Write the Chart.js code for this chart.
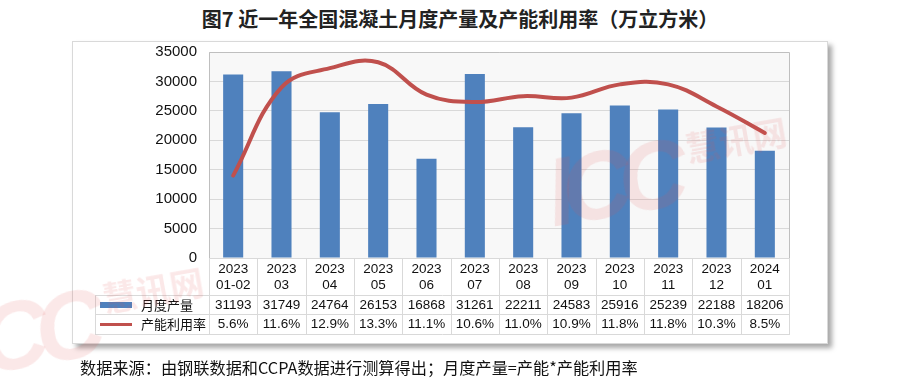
<!DOCTYPE html>
<html lang="zh-CN">
<head>
<meta charset="UTF-8">
<title>近一年全国混凝土月度产量及产能利用率</title>
<script src="https://cdn.jsdelivr.net/npm/chart.js"></script>
<style>
  body {margin: 0; background: #fff;}
  #wrap {position: relative; width: 900px; height: 389px; overflow: hidden; background: #fff;}
  .title {position: absolute; left: 0; top: 4px; width: 920px; text-align: center; font-family: "Noto Sans CJK SC", sans-serif; font-size: 20px; font-weight: bold; color: #222;}
  .frame {position: absolute; left: 72px; top: 41px; width: 754px; height: 301px; border: 1px solid #d9d9d9; background: #fff; box-shadow: 4px 4px 5px rgba(0,0,0,0.35);}
  #chart {position: absolute; left: 0; top: 0;}
  .note {position: absolute; left: 80px; top: 355px; font-family: "Noto Sans CJK SC", sans-serif; font-size: 16.2px; color: #111; white-space: nowrap;}
  .wm {position: absolute; font-family: "Liberation Sans", "Noto Sans CJK SC", sans-serif; font-weight: bold; font-style: italic; color: rgba(225, 80, 80, 0.13); pointer-events: none; white-space: nowrap; transform: rotate(-10deg); transform-origin: left top;}
  .wm span {font-size: 34px; font-style: normal; letter-spacing: 0; vertical-align: 40px;}
</style>
</head>
<body>
<div id="wrap">
  <div class="title">图7 近一年全国混凝土月度产量及产能利用率（万立方米）</div>
  <div class="frame"></div>
  <canvas id="chart" width="900" height="389"></canvas>
  <div class="wm" style="left:538px; top:140px; font-size:96px; letter-spacing:-12px;">ICC <span>慧讯网</span></div>
  <div class="wm" style="left:-45px; top:290px; font-size:96px; letter-spacing:-12px;">ICC <span>慧讯网</span></div>
  <div class="note">数据来源：由钢联数据和CCPA数据进行测算得出；月度产量=产能*产能利用率</div>
</div>
<script>
// 数据
const years = ['2023', '2023', '2023', '2023', '2023', '2023', '2023', '2023', '2023', '2023', '2023', '2024'];
const months = ['01-02', '03', '04', '05', '06', '07', '08', '09', '10', '11', '12', '01'];
const output = [31193, 31749, 24764, 26153, 16868, 31261, 22211, 24583, 25916, 25239, 22188, 18206];
const rates = [5.6, 11.6, 12.9, 13.3, 11.1, 10.6, 11.0, 10.9, 11.8, 11.8, 10.3, 8.5];
const yTicks = [0, 5000, 10000, 15000, 20000, 25000, 30000, 35000];

const barColor = '#4f81bd';
const lineColor = '#c0504d';
const gridColor = '#d9d9d9';
const numFont = '13.5px "Liberation Sans", "Noto Sans CJK SC", sans-serif';
const cjkFont = '13px "Noto Sans CJK SC", sans-serif';

// 绘图区背景、边框和下方的数据表
const tablePlugin = {
    id: 'dataTable',
    beforeDraw(chart) {
        const {ctx, chartArea: a} = chart;
        ctx.save();
        ctx.fillStyle = '#f8f8f8';
        ctx.fillRect(a.left, a.top, a.right - a.left, a.bottom - a.top);
        ctx.restore();
    },
    beforeDatasetsDraw(chart) {
        const {ctx, chartArea: a} = chart;
        ctx.save();
        ctx.strokeStyle = '#bfbfbf';
        ctx.lineWidth = 1;
        ctx.beginPath();
        ctx.moveTo(a.left + 0.5, a.bottom);
        ctx.lineTo(a.left + 0.5, a.top + 0.5);
        ctx.lineTo(a.right + 0.5, a.top + 0.5);
        ctx.lineTo(a.right + 0.5, a.bottom);
        ctx.stroke();
        ctx.restore();
    },
    afterDraw(chart) {
        const {ctx, chartArea: a, scales: {x}} = chart;
        const w = (a.right - a.left) / years.length;
        const tableLeft = 95;
        const r0 = Math.round(a.bottom), r1 = r0 + 37, r2 = r1 + 19, r3 = r2 + 20;
        ctx.save();
        ctx.strokeStyle = gridColor;
        ctx.lineWidth = 1;
        ctx.beginPath();
        // 横线
        ctx.moveTo(a.left, r0 + 0.5); ctx.lineTo(a.right + 1, r0 + 0.5);
        [r1, r2, r3].forEach(y => { ctx.moveTo(tableLeft, y + 0.5); ctx.lineTo(a.right + 1, y + 0.5); });
        // 竖线
        ctx.moveTo(tableLeft + 0.5, r1); ctx.lineTo(tableLeft + 0.5, r3);
        for (let i = 0; i <= years.length; i++) {
            const xx = Math.round(a.left + i * w) + 0.5;
            ctx.moveTo(xx, r0); ctx.lineTo(xx, r3);
        }
        ctx.stroke();

        ctx.fillStyle = '#111';
        ctx.textAlign = 'center';
        ctx.textBaseline = 'middle';
        ctx.font = numFont;
        years.forEach((yr, i) => {
            const cx = x.getPixelForValue(i);
            ctx.fillText(yr, cx, r0 + 11);
            ctx.fillText(months[i], cx, r0 + 27);
            ctx.fillText(String(output[i]), cx, r1 + 10);
            ctx.fillText(rates[i].toFixed(1) + '%', cx, r2 + 10);
        });

        // 图例
        ctx.fillStyle = barColor;
        ctx.fillRect(100, r1 + 7, 32, 6);
        ctx.strokeStyle = lineColor;
        ctx.lineWidth = 3;
        ctx.beginPath();
        ctx.moveTo(100, r2 + 10.5); ctx.lineTo(132, r2 + 10.5);
        ctx.stroke();
        ctx.fillStyle = '#111';
        ctx.textAlign = 'left';
        ctx.font = cjkFont;
        ctx.fillText('月度产量', 141, r1 + 10);
        ctx.fillText('产能利用率', 141, r2 + 10);
        ctx.restore();
    }
};

new Chart(document.getElementById('chart'), {
    type: 'bar',
    data: {
        labels: months,
        datasets: [
            {
                type: 'line',
                label: '产能利用率',
                data: rates,
                yAxisID: 'y1',
                borderColor: lineColor,
                borderWidth: 4,
                borderCapStyle: 'round',
                pointRadius: 0,
                tension: 0.4,
                fill: false,
                order: 0
            },
            {
                label: '月度产量',
                data: output,
                yAxisID: 'y',
                backgroundColor: barColor,
                barPercentage: 0.415,
                categoryPercentage: 1,
                order: 1
            }
        ]
    },
    options: {
        responsive: false,
        devicePixelRatio: 1,
        animation: false,
        layout: { padding: { top: 52, bottom: 131, left: 0, right: 111 } },
        plugins: { legend: { display: false }, tooltip: { enabled: false } },
        scales: {
            x: { display: false, offset: true },
            y: {
                min: 0,
                max: 35000,
                afterFit(scale) { scale.width = 209; },
                afterBuildTicks(scale) { scale.ticks = yTicks.map(v => ({ value: v })); },
                border: { display: false },
                grid: { color: gridColor, drawTicks: false },
                ticks: {
                    padding: 12,
                    color: '#111',
                    font: { family: '"Liberation Sans", sans-serif', size: 15 },
                    callback: v => String(v)
                }
            },
            y1: { display: false, min: 0, max: 14 }
        }
    },
    plugins: [tablePlugin]
});
</script>
</body>
</html>
